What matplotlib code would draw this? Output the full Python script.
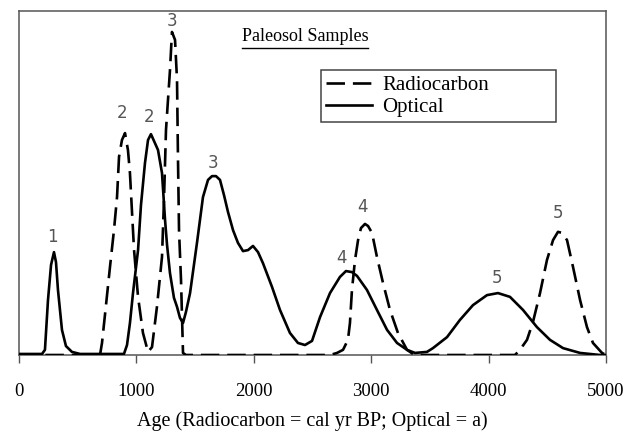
import matplotlib
matplotlib.use("Agg")
import matplotlib.pyplot as plt
from matplotlib.lines import Line2D

# Optical age distribution (age in a, relative probability)
opt_age = [0, 196, 221, 247, 273, 298, 315, 332, 366, 400, 451, 520, 894, 920, 945, 971,
           1014, 1039, 1073, 1099, 1124, 1158, 1184, 1218, 1244, 1261, 1286, 1320, 1346,
           1371, 1397, 1422, 1457, 1516, 1567, 1610, 1644, 1678, 1712, 1746, 1780, 1823,
           1865, 1908, 1951, 1993, 2036, 2078, 2155, 2223, 2308, 2376, 2436, 2496, 2564,
           2649, 2734, 2785, 2836, 2879, 2964, 3049, 3135, 3220, 3305, 3373, 3475, 3526,
           3646, 3756, 3867, 3986, 4080, 4182, 4293, 4412, 4523, 4634, 4779, 4949, 5000]
opt_prob = [0.3, 0.3, 1.5, 16.0, 26.2, 29.9, 27.0, 18.9, 7.3, 2.6, 0.9, 0.3, 0.3, 2.9, 9.3, 18.0,
            30.5, 43.6, 55.8, 62.5, 64.2, 61.6, 59.6, 52.9, 39.2, 32.0, 23.8, 16.6, 14.0,
            10.8, 9.3, 12.5, 18.0, 32.6, 45.9, 50.9, 52.0, 52.0, 50.9, 46.5, 41.6, 36.3,
            32.6, 30.2, 30.5, 31.7, 29.9, 26.7, 19.8, 13.1, 6.4, 3.5, 2.9, 4.1, 11.0,
            18.0, 22.7, 24.4, 24.1, 23.0, 18.9, 13.1, 7.3, 3.5, 1.5, 0.6, 0.9, 2.0,
            5.2, 10.2, 14.5, 17.4, 18.0, 16.9, 13.1, 8.1, 4.4, 2.0, 0.6, 0.0, 0.0]

# Radiocarbon distribution (cal yr BP)
rc_age = [0, 690, 707, 741, 775, 809, 835, 852, 877, 903, 928, 945, 963, 980, 1014, 1056,
          1099, 1133, 1175, 1218, 1235, 1252, 1269, 1286, 1303, 1329, 1346, 1354, 1363,
          1380, 1397, 1422, 2649, 2709, 2760, 2802, 2819, 2836, 2862, 2888, 2913, 2947,
          2973, 3007, 3049, 3101, 3160, 3228, 3305, 3356, 3399, 4225, 4267, 4327, 4378,
          4438, 4497, 4549, 4591, 4625, 4668, 4719, 4779, 4838, 4889, 4966, 5000]
rc_prob = [0, 0, 3.5, 14.5, 25.6, 36.3, 45.9, 57.6, 62.5, 64.5, 59.6, 52.9, 41.3, 30.5, 16.9, 6.4,
           0.9, 2.3, 14.0, 28.5, 45.0, 65.4, 74.1, 82.8, 93.9, 91.6, 80.0, 57.6, 36.3,
           21.8, 0.6, 0, 0, 0.6, 1.5, 4.4, 9.3, 18.9, 27.6, 33.4, 36.9, 38.1,
           37.5, 35.5, 28.5, 20.9, 13.1, 6.4, 1.5, 0.3, 0, 0, 1.5, 4.4, 9.6,
           18.0, 27.6, 33.4, 35.8, 35.5, 33.4, 25.6, 16.0, 8.1, 3.5, 0.6, 0]

# sample numbers above peaks
peak_labels = ["1", "2", "2", "3", "3", "4", "4", "5", "5"]
peak_x = [281, 877, 1107, 1303, 1652, 2751, 2922, 4072, 4591]
peak_y = [34.3, 70.3, 69.2, 97.1, 55.8, 28.2, 43.0, 22.4, 41.3]

xticks = [0, 1000, 2000, 3000, 4000, 5000]

serif = "Liberation Serif"

fig = plt.figure(figsize=(6.29, 4.34), dpi=100)
ax = fig.add_axes([19/629, 79/434, 587/629, 344/434])

ax.plot(opt_age, opt_prob, color="black", lw=1.9, label="Optical", zorder=3)
ax.plot(rc_age, rc_prob, color="black", lw=1.9, ls=(0, (7, 3)), label="Radiocarbon", zorder=3)

for lab, px, py in zip(peak_labels, peak_x, peak_y):
    ax.text(px, py, lab, ha="center", va="center", fontsize=12,
            color="#555555", family="DejaVu Sans")

ax.set_xlim(0, 5000)
ax.set_ylim(0, 100)
ax.set_yticks([])
ax.set_xticks(xticks)
ax.set_xticklabels([str(t) for t in xticks], family=serif, fontsize=13.5)
ax.tick_params(axis="x", direction="out", length=6, width=1, color="#555555", pad=14)
for s in ax.spines.values():
    s.set_color("#555555")
    s.set_linewidth(1.1)

ax.set_xlabel("Age (Radiocarbon = cal yr BP; Optical = a)", family=serif,
              fontsize=14.5, labelpad=8)

title = ax.text(2436, 92.5, "Paleosol Samples", ha="center", va="center",
                family=serif, fontsize=13)

h_opt, h_rc = ax.get_legend_handles_labels()[0]
leg = ax.legend([h_rc, h_opt], ["Radiocarbon", "Optical"],
                loc="lower left", bbox_to_anchor=(0.514, 0.677, 0.401, 0.149),
                mode="expand", borderaxespad=0, fancybox=False, framealpha=1,
                edgecolor="#444444", handlelength=2.2, handletextpad=0.5,
                borderpad=0.25, labelspacing=0.1,
                prop={"family": serif, "size": 15})
leg.get_frame().set_linewidth(1.1)

# underline the title
fig.canvas.draw()
bb = title.get_window_extent()
fig.add_artist(Line2D([bb.x0, bb.x1], [bb.y0 - 3, bb.y0 - 3], color="black",
                      lw=1, transform=None))

fig.savefig("out.png", dpi=100)
